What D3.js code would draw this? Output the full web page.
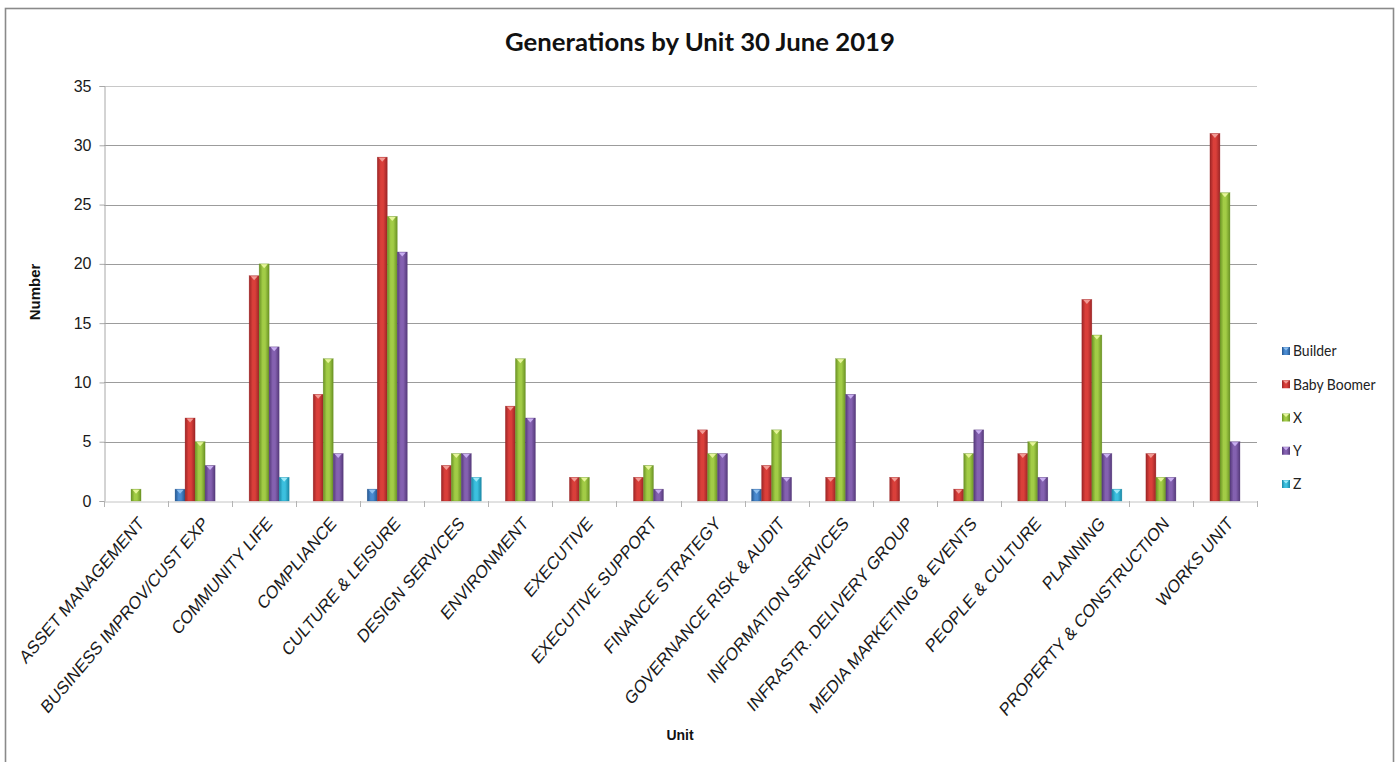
<!DOCTYPE html>
<html>
<head>
<meta charset="utf-8">
<script src="https://cdn.jsdelivr.net/npm/d3@7"></script>
<style>
  html, body { margin: 0; padding: 0; background: #ffffff; }
  svg { display: block; }
</style>
</head>
<body>
<svg id="chart" width="1399" height="762"></svg>
<script>
// ---- data ----
const units = [
  "ASSET MANAGEMENT", "BUSINESS IMPROV/CUST EXP", "COMMUNITY LIFE", "COMPLIANCE",
  "CULTURE & LEISURE", "DESIGN SERVICES", "ENVIRONMENT", "EXECUTIVE",
  "EXECUTIVE SUPPORT", "FINANCE STRATEGY", "GOVERNANCE RISK & AUDIT",
  "INFORMATION SERVICES", "INFRASTR. DELIVERY GROUP", "MEDIA MARKETING & EVENTS",
  "PEOPLE & CULTURE", "PLANNING", "PROPERTY & CONSTRUCTION", "WORKS UNIT"
];
const seriesNames = ["Builder", "Baby Boomer", "X", "Y", "Z"];
const builder    = [0, 1, 0, 0, 1, 0, 0, 0, 0, 0, 1, 0, 0, 0, 0, 0, 0, 0];
const babyBoomer = [0, 7, 19, 9, 29, 3, 8, 2, 2, 6, 3, 2, 2, 1, 4, 17, 4, 31];
const genX       = [1, 5, 20, 12, 24, 4, 12, 2, 3, 4, 6, 12, 0, 4, 5, 14, 2, 26];
const genY       = [0, 3, 13, 4, 21, 4, 7, 0, 1, 4, 2, 9, 0, 6, 2, 4, 2, 5];
const genZ       = [0, 0, 2, 0, 0, 2, 0, 0, 0, 0, 0, 0, 0, 0, 0, 1, 0, 0];
const seriesValues = [builder, babyBoomer, genX, genY, genZ];
const yTicks = [0, 5, 10, 15, 20, 25, 30, 35];
const titleText = "Generations by Unit 30 June 2019";
const yTitle = "Number";
const xTitle = "Unit";

// colours per series: [edge, centre, cap]
const palette = [
  ["#24568f", "#4a8ad0", "#8fc0ef"],
  ["#9c2526", "#da3f3a", "#f29a94"],
  ["#6a9224", "#a2cc46", "#e6f59a"],
  ["#55397a", "#8461b0", "#c8aef0"],
  ["#1b88a6", "#3cc0df", "#9eeaf8"]
];

// ---- layout ----
const W = 1399, H = 762;
const plot = { left: 104, right: 1257, top: 86, bottom: 501 };

const svg = d3.select("#chart");
svg.append("rect").attr("width", W).attr("height", H).attr("fill", "#ffffff");

// outer chart frame
svg.append("rect")
  .attr("x", 5.5).attr("y", 8.5).attr("width", 1388).attr("height", 770)
  .attr("fill", "none").attr("stroke", "#8a8a8a").attr("stroke-width", 1.6);

const x0 = d3.scaleBand().domain(units).range([plot.left, plot.right]).paddingInner(0).paddingOuter(0);
const x1 = d3.scaleBand().domain(d3.range(seriesNames.length)).range([0, x0.bandwidth()]).paddingInner(0).paddingOuter(0.7);
const y = d3.scaleLinear().domain([0, 35]).range([plot.bottom, plot.top]);

// gradients giving each bar a rounded, lit look
const defs = svg.append("defs");
palette.forEach((c, i) => {
  const g = defs.append("linearGradient").attr("id", "grad" + i)
    .attr("x1", "0").attr("x2", "1").attr("y1", "0").attr("y2", "0");
  g.append("stop").attr("offset", "0%").attr("stop-color", c[0]);
  g.append("stop").attr("offset", "35%").attr("stop-color", c[1]);
  g.append("stop").attr("offset", "60%").attr("stop-color", c[1]);
  g.append("stop").attr("offset", "100%").attr("stop-color", c[0]);
});

// horizontal gridlines
svg.append("g").selectAll("line").data(yTicks.filter(d => d > 0)).join("line")
  .attr("x1", plot.left).attr("x2", plot.right)
  .attr("y1", d => Math.round(y(d)) + 0.5).attr("y2", d => Math.round(y(d)) + 0.5)
  .attr("stroke", d => d === 35 ? "#c8c8c8" : "#9c9c9c").attr("stroke-width", 1);

// y axis
const yAxis = svg.append("g").attr("transform", `translate(${plot.left + 0.5},0)`)
  .call(d3.axisLeft(y).tickValues(yTicks).tickSize(5).tickPadding(8));
yAxis.select(".domain").attr("stroke", "#a8a8a8");
yAxis.selectAll(".tick line").attr("stroke", "#a8a8a8");
yAxis.selectAll(".tick text")
  .attr("font-family", "'Liberation Sans', Arial, sans-serif")
  .attr("font-size", 16).attr("fill", "#1a1a1a");

// x axis
const xAxis = svg.append("g").attr("transform", `translate(0,${plot.bottom + 0.5})`)
  .call(d3.axisBottom(x0).tickSize(0).tickFormat(""));
xAxis.select(".domain").attr("stroke", "#c4c4c4");
// tick marks at category boundaries
svg.append("g").selectAll("line").data(d3.range(units.length + 1)).join("line")
  .attr("x1", i => Math.round(plot.left + i * x0.step()) + 0.5)
  .attr("x2", i => Math.round(plot.left + i * x0.step()) + 0.5)
  .attr("y1", plot.bottom).attr("y2", plot.bottom + 6)
  .attr("stroke", "#b4b4b4");

// category labels, slanted
svg.append("g").selectAll("text").data(units).join("text")
  .attr("transform", d => `translate(${x0(d) + x0.bandwidth() / 2 + 1},515) scale(0.85,1) rotate(-45)`)
  .attr("text-anchor", "end")
  .attr("dy", "0.72em")
  .attr("font-family", "'Liberation Sans', Arial, sans-serif")
  .attr("font-size", 18.5).attr("fill", "#1a1a1a")
  .text(d => d);

// bars
const groups = svg.append("g").selectAll("g").data(units).join("g")
  .attr("transform", d => `translate(${x0(d)},0)`);

groups.each(function (u, ui) {
  const g = d3.select(this);
  const vals = seriesValues.map((arr, si) => ({ si, v: arr[ui] })).filter(d => d.v > 0);
  g.selectAll("rect").data(vals).join("rect")
    .attr("x", d => x1(d.si))
    .attr("width", x1.bandwidth())
    .attr("y", d => y(d.v))
    .attr("height", d => y(0) - y(d.v))
    .attr("fill", d => `url(#grad${d.si})`)
    .attr("stroke", d => palette[d.si][0]).attr("stroke-width", 0.5).attr("stroke-opacity", 0.6);
  // lit bevel at the top of each bar
  g.selectAll("path").data(vals).join("path")
    .attr("d", d => {
      const bx = x1(d.si), bw = x1.bandwidth(), by = y(d.v);
      return `M${bx + 1.5},${by + 0.5} L${bx + bw - 1.5},${by + 0.5} L${bx + bw / 2},${by + 4.5} Z`;
    })
    .attr("fill", d => palette[d.si][2]);
});

// helper that condenses text horizontally to a target width
function fitWidth(sel, target, anchorX) {
  sel.each(function () {
    const len = this.getComputedTextLength();
    const s = target / len;
    d3.select(this).attr("transform", `translate(${anchorX},0) scale(${s},1) translate(${-anchorX},0)`);
  });
}

// title
const title = svg.append("text")
  .attr("x", 700).attr("y", 51).attr("text-anchor", "middle")
  .attr("font-family", "Lato, 'Open Sans', sans-serif").attr("font-weight", "bold")
  .attr("font-size", 24).attr("fill", "#111")
  .text(titleText);
fitWidth(title, 390, 700);

// axis titles
svg.append("text")
  .attr("transform", `translate(40,292) rotate(-90)`)
  .attr("text-anchor", "middle")
  .attr("font-family", "'Liberation Sans', Arial, sans-serif").attr("font-weight", "bold")
  .attr("font-size", 15).attr("fill", "#111")
  .text(yTitle);

svg.append("text")
  .attr("x", 680).attr("y", 740).attr("text-anchor", "middle")
  .attr("font-family", "'Liberation Sans', Arial, sans-serif").attr("font-weight", "bold")
  .attr("font-size", 14).attr("fill", "#111")
  .text(xTitle);

// legend
const legend = svg.append("g");
const legendY = d3.scalePoint().domain(seriesNames).range([351, 484]);
seriesNames.forEach((name, i) => {
  const ly = legendY(name);
  legend.append("rect")
    .attr("x", 1282).attr("y", ly - 4).attr("width", 8).attr("height", 8)
    .attr("fill", `url(#grad${i})`);
  legend.append("path")
    .attr("d", `M1283,${ly - 3.5} L1289,${ly - 3.5} L1286,${ly - 0.5} Z`)
    .attr("fill", palette[i][2]);
  legend.append("text")
    .attr("x", 1293).attr("y", ly).attr("dy", "0.35em")
    .attr("font-family", "Lato, 'Open Sans', sans-serif")
    .attr("font-size", 15.5).attr("fill", "#222")
    .attr("transform", `translate(1293,0) scale(0.9,1) translate(-1293,0)`)
    .text(name);
});
</script>
</body>
</html>
